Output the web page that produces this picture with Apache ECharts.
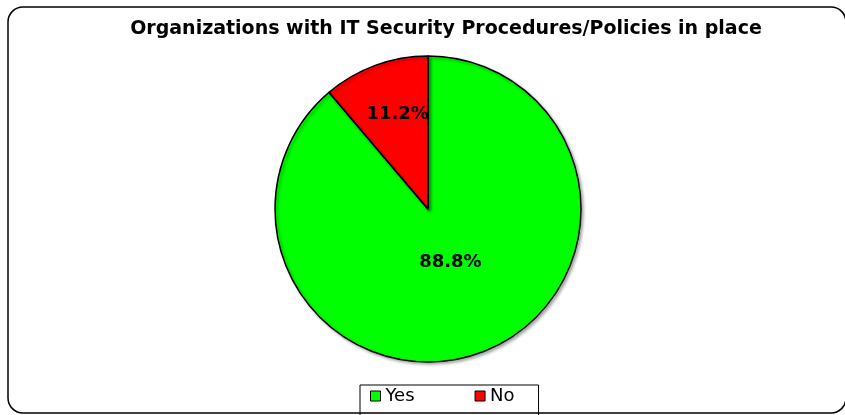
<!DOCTYPE html>
<html>
<head>
<meta charset="utf-8">
<script src="https://cdn.jsdelivr.net/npm/echarts@6/dist/echarts.min.js"></script>
<style>html,body{margin:0;padding:0;background:#fff}#c{width:845px;height:415px}</style>
</head>
<body>
<div id="c"></div>
<script>
const titleText = 'Organizations with IT Security Procedures/Policies in place';
const categories = ['Yes', 'No'];
const values = [88.8, 11.2];
const colors = ['#00FF00', '#FF0000'];

const FONT = 'DejaVu Sans, Liberation Sans, Arial, sans-serif';
const chart = echarts.init(document.getElementById('c'), null, {renderer: 'canvas'});
chart.setOption({
  animation: false,
  backgroundColor: '#fff',
  title: {
    text: titleText,
    left: 441, textAlign: 'center', top: 15,
    textStyle: {fontFamily: FONT, fontWeight: 'bold', fontSize: 19, color: '#000'}
  },
  graphic: [{
    type: 'rect', shape: {x: 8, y: 7, width: 838, height: 406, r: 15},
    style: {fill: 'none', stroke: '#000', lineWidth: 1.5}, silent: true, z: 100
  }],
  legend: {
    left: 360, top: 385,
    padding: [2, 24, 30, 10],
    borderColor: '#000', borderWidth: 1,
    icon: 'rect', itemWidth: 10, itemHeight: 10, itemGap: 60,
    itemStyle: {borderColor: '#000', borderWidth: 1},
    textStyle: {fontFamily: FONT, fontSize: 18, color: '#000'},
    data: categories
  },
  series: [{
    type: 'pie',
    center: [428, 209], radius: [0, 153],
    startAngle: 90, clockwise: true,
    data: categories.map((c, i) => ({name: c, value: values[i], itemStyle: {color: colors[i]}})),
    itemStyle: {borderColor: '#000', borderWidth: 1.5, shadowColor: 'rgba(0,0,0,0.3)', shadowBlur: 3, shadowOffsetX: 2, shadowOffsetY: 2},
    label: {
      position: 'inside',
      formatter: p => p.value.toFixed(1) + '%',
      fontFamily: FONT, fontWeight: 'bold', fontSize: 18, color: '#000'
    },
    labelLayout: p => (p.dataIndex === 0 ? {dx: -5, dy: -21} : {dx: -3, dy: -20}),
    labelLine: {show: false},
    emphasis: {disabled: true}
  }]
});
</script>
</body>
</html>
